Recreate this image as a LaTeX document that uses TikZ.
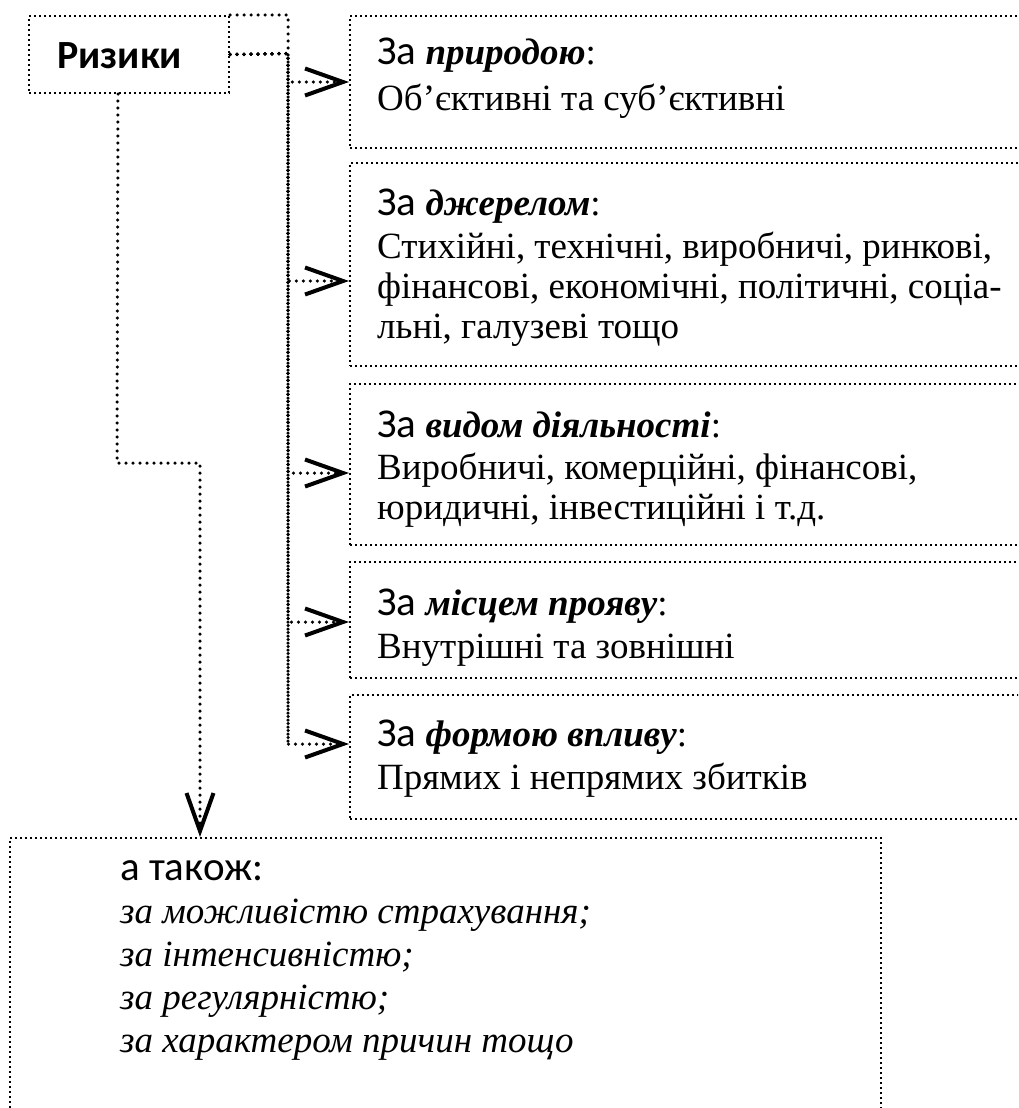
\documentclass[tikz,border=0pt]{standalone}
\usepackage{fontspec}
\setmainfont{Liberation Serif}
\newfontfamily\calfont{Carlito}
\usetikzlibrary{arrows.meta}
\newcommand{\zahd}{\fontsize{41}{46}\selectfont\calfont За}
\begin{document}
\begin{tikzpicture}[x=1pt,y=-1pt,
  box/.style={draw, line width=2pt, dash pattern=on 2pt off 3pt, inner sep=0pt, anchor=north west},
  conn/.style={line width=3.5pt, line cap=round, dash pattern=on 0pt off 7pt},
  tipped/.style={-{Straight Barb[length=38pt,width=27pt,line width=4pt]}},
  txt/.style={anchor=base west, inner sep=0pt, font=\fontsize{37}{42}\selectfont},
  caltxt/.style={anchor=base west, inner sep=0pt, font=\fontsize{41}{46}\selectfont\calfont},
  ittxt/.style={anchor=base west, inner sep=0pt, font=\fontsize{37}{42}\selectfont\itshape},
]
\useasboundingbox (0,0) rectangle (1018,1108);
\clip (0,0) rectangle (1018,1108);

% boxes
\node[box, minimum width=200pt, minimum height=77pt] (r) at (28,15) {};
\node[box, minimum width=700pt, minimum height=132pt] (b1) at (349,15) {};
\node[box, minimum width=700pt, minimum height=203pt] (b2) at (349,162) {};
\node[box, minimum width=700pt, minimum height=161pt] (b3) at (349,383) {};
\node[box, minimum width=700pt, minimum height=116pt] (b4) at (349,561) {};
\node[box, minimum width=700pt, minimum height=124pt] (b5) at (349,694) {};
\node[box, minimum width=871pt, minimum height=300pt] (bot) at (9,837) {};

% texts
\node[caltxt, font=\fontsize{40}{46}\selectfont\calfont\bfseries] (rt) at (57,68) {Ризики};

\node[txt] (t1a) at (377,64) {{\zahd} \textbf{\textit{природою}}:};
\node[txt] (t1b) at (377,110) {Об’єктивні та суб’єктивні};

\node[txt] (t2a) at (377,215) {{\zahd} \textbf{\textit{джерелом}}:};
\node[txt] (t2b) at (377,258) {Стихійні, технічні, виробничі, ринкові,};
\node[txt] (t2c) at (377,298) {фінансові, економічні, політичні, соціа-};
\node[txt] (t2d) at (377,338) {льні, галузеві тощо};

\node[txt] (t3a) at (377,437) {{\zahd} \textbf{\textit{видом діяльності}}:};
\node[txt] (t3b) at (377,479) {Виробничі, комерційні, фінансові,};
\node[txt] (t3c) at (377,519) {юридичні, інвестиційні і т.д.};

\node[txt] (t4a) at (377,615) {{\zahd} \textbf{\textit{місцем прояву}}:};
\node[txt] (t4b) at (377,658) {Внутрішні та зовнішні};

\node[txt] (t5a) at (377,746) {{\zahd} \textbf{\textit{формою впливу}}:};
\node[txt] (t5b) at (377,789) {Прямих і непрямих збитків};

\node[caltxt] (u0) at (120,880) {а також:};
\node[ittxt] (u1) at (120,923) {за можливістю страхування;};
\node[ittxt] (u2) at (120,966) {за інтенсивністю;};
\node[ittxt] (u3) at (120,1009) {за регулярністю;};
\node[ittxt] (u4) at (120,1052) {за характером причин тощо};

% connectors
\coordinate (k) at (288,53.5);
\coordinate (ktop) at (288,15);
\coordinate (l1) at (117,463);
\coordinate (l2) at (200,463);
\coordinate (e1) at (b1.west);
\coordinate (e2) at ([yshift=-16.5pt]b2.west);
\coordinate (e3) at ([yshift=-8.5pt]b3.west);
\coordinate (e4) at ([yshift=-2pt]b4.west);
\coordinate (e5) at ([yshift=13pt]b5.west);

\draw[conn] (r.north east) -- (ktop) -- (ktop |- e5);
\draw[conn, tipped] (r.east) -- (k) |- (e1);
\draw[conn, tipped] (r.east) -- (k) |- (e2);
\draw[conn, tipped] (r.east) -- (k) |- (e3);
\draw[conn, tipped] (r.east) -- (k) |- (e4);
\draw[conn, tipped] (r.east) -- (k) |- (e5);

\draw[conn, tipped] ([xshift=-11pt]r.south) -- (l1) -- (l2) -- (l2 |- bot.north);
\end{tikzpicture}
\end{document}
